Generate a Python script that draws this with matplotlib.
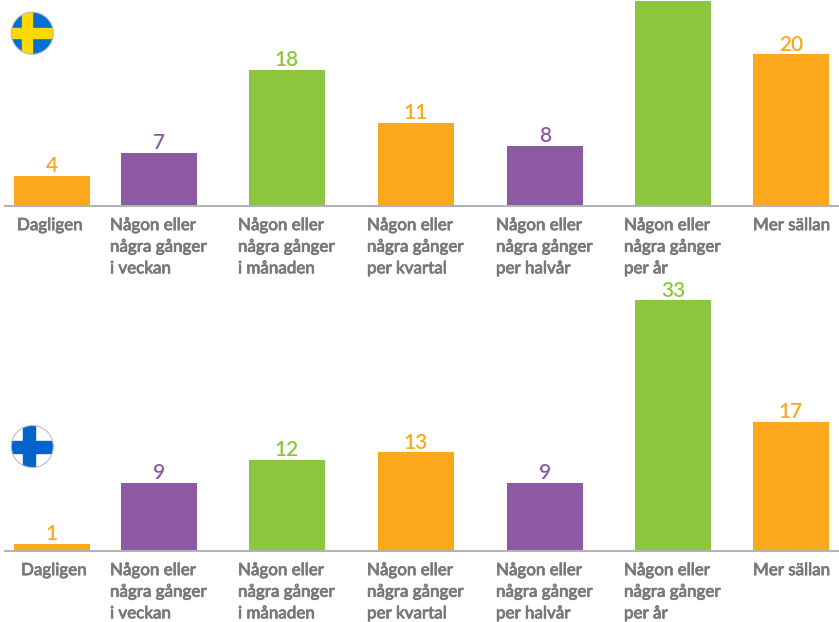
# -*- coding: utf-8 -*-
import matplotlib
matplotlib.use('Agg')
import matplotlib.pyplot as plt
import matplotlib.patheffects as pe
from matplotlib.patches import Circle, Rectangle

matplotlib.rcParams['font.family'] = ['Lato', 'DejaVu Sans']

W, H = 839, 622
categories = ['Dagligen',
              'Någon eller\nnågra gånger\ni veckan',
              'Någon eller\nnågra gånger\ni månaden',
              'Någon eller\nnågra gånger\nper kvartal',
              'Någon eller\nnågra gånger\nper halvår',
              'Någon eller\nnågra gånger\nper år',
              'Mer sällan']
sweden = [4, 7, 18, 11, 8, 27, 20]
finland = [1, 9, 12, 13, 9, 33, 17]

ORANGE = '#fba81c'
PURPLE = '#8d59a3'
GREEN = '#8cc63f'
GREY = '#77787b'
colors = [ORANGE, PURPLE, GREEN, ORANGE, PURPLE, GREEN, ORANGE]

# layout in pixels
centers = [52, 159, 287, 416, 545, 673, 791]
label_left = [None, 110, 238, 367, 496, 624, 753]
px_per_unit = 7.6


def draw_panel(fig, values, base_y, top_y, dagligen_x):
    ax = fig.add_axes([0, 1 - base_y / H, 1, (base_y - top_y) / H])
    ax.set_xlim(0, W)
    ax.set_ylim(0, (base_y - top_y) / px_per_unit)
    ax.axis('off')
    ax.bar(centers, values, width=76, color=colors, zorder=2)
    ax.plot([5, W], [0, 0], color='#b3b3b3', lw=1.5, zorder=3, clip_on=False)
    for i, v in enumerate(values):
        # the tallest Swedish bar has its number cut off by the picture edge
        if base_y - v * px_per_unit > 20:
            ax.annotate(str(v), (centers[i], v), xytext=(0, -0.2), textcoords='offset points',
                        ha='center', va='bottom', fontsize=15, color=colors[i],
                        fontweight='semibold', annotation_clip=False)
        x = dagligen_x if i == 0 else label_left[i]
        t = ax.annotate(categories[i], (x, 0), xytext=(0, -7.8), textcoords='offset points',
                        ha='left', va='top', fontsize=12.2, color=GREY, fontweight='medium',
                        linespacing=1.43, annotation_clip=False)
        t.set_path_effects([pe.withStroke(linewidth=0.5, foreground=GREY)])
    return ax


def flag(ax, cx, cy, r, bg, cross, edge, vx, thick):
    clip = Circle((cx, cy), r, transform=ax.transData)
    bits = [Rectangle((cx - r, cy - r), 2 * r, 2 * r, color=bg),
            Rectangle((cx - r, cy - thick / 2), 2 * r, thick, color=cross),
            Rectangle((vx, cy - r), thick, 2 * r, color=cross)]
    for b in bits:
        ax.add_patch(b)
        b.set_clip_path(clip)
    ax.add_patch(Circle((cx, cy), r, fill=False, ec=edge, lw=0.8))


fig = plt.figure(figsize=(W / 100, H / 100), dpi=100)
draw_panel(fig, sweden, 206.3, 1, 17)
draw_panel(fig, finland, 551.3, 296, 21)

overlay = fig.add_axes([0, 0, 1, 1])
overlay.set_xlim(0, W)
overlay.set_ylim(H, 0)
overlay.axis('off')
flag(overlay, 32.3, 33.2, 21, '#006ed2', '#ffd800', '#bbbbbb', 22, 9.5)
flag(overlay, 32.3, 446.5, 21, '#ffffff', '#0064cc', '#bbbbbb', 23, 12)

fig.savefig('out.png', dpi=100)
